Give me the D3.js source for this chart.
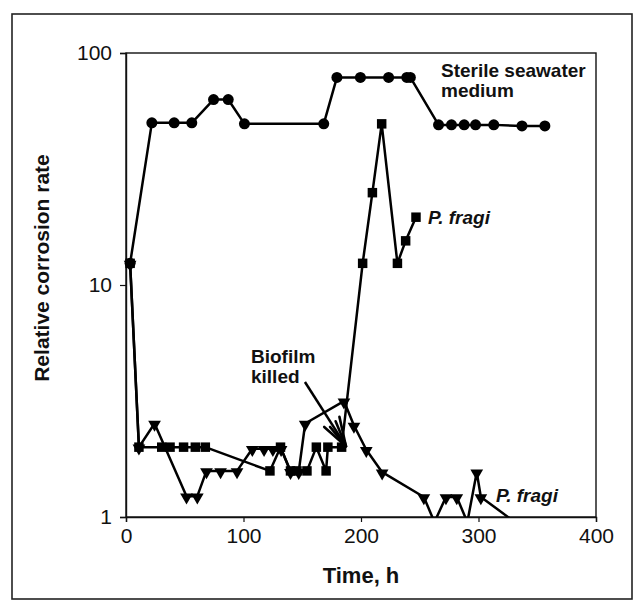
<!DOCTYPE html>
<html>
<head>
<meta charset="utf-8">
<script src="https://cdn.jsdelivr.net/npm/d3@7"></script>
<style>
  html, body { margin: 0; padding: 0; background: #fff; }
  svg { display: block; }
</style>
</head>
<body>
<svg id="chart" width="642" height="607"></svg>
<script>
// ---- Data ----
const xTicks = [0, 100, 200, 300, 400];
const yTicks = [1, 10, 100];

// Sterile seawater medium (circles)
const sterileTime  = [3.5, 22, 41, 56, 74.5, 87, 100.8, 168.3, 179.5, 199.5, 223.5, 239, 242, 266, 277, 287.8, 297.5, 313, 337, 356.5];
const sterileValue = [12.4, 50, 50, 50, 63, 63, 49.5, 49.5, 78.5, 78.5, 78.5, 78.5, 78.5, 49, 49, 49, 49, 49, 48.5, 48.5];

// P. fragi (squares)
const squareTime  = [3.5, 11, 30.4, 37.5, 49, 59, 67.5, 122.5, 131.5, 140, 145.5, 154, 162, 170.3, 171.8, 183.5, 201.4, 209.7, 217.6, 231, 238, 246.8];
const squareValue = [12.4, 2, 2, 2, 2, 2, 2, 1.58, 2, 1.58, 1.58, 1.58, 2, 1.58, 2, 2, 12.4, 25, 49.5, 12.4, 15.5, 19.6];

// P. fragi, biofilm killed (down triangles)
const triTime  = [3.5, 11, 24.3, 51.5, 60.7, 68.5, 80.5, 94.5, 107.5, 117.5, 125, 132, 140, 147, 152.5, 185.5, 194, 204.5, 218, 253.5, 262.5, 272.3, 281.5, 290.5, 298.5, 302, 340];
const triValue = [12.4, 2, 2.53, 1.23, 1.23, 1.58, 1.58, 1.58, 1.97, 1.97, 1.97, 1.97, 1.57, 1.57, 2.53, 3.16, 2.48, 1.95, 1.56, 1.22, 0.95, 1.22, 1.22, 0.95, 1.56, 1.22, 0.88];

// Annotation arrow (data coordinates): start, tip
const arrowFrom = [152.3, 3.82];
const arrowTip  = [187.2, 2.02];

// ---- Layout ----
const svg = d3.select("#chart");
const L = 126, R = 596, T = 53, B = 517;
const x = d3.scaleLinear().domain([0, 400]).range([L, R]);
const y = d3.scaleLog().domain([1, 100]).range([B, T]);
const FONT = "Liberation Sans, Arial, Helvetica, sans-serif";

// outer frame
svg.append("rect")
  .attr("x", 12).attr("y", 14).attr("width", 620).attr("height", 585)
  .attr("fill", "none").attr("stroke", "#222").attr("stroke-width", 1.6);

// plot frame
svg.append("rect")
  .attr("x", L).attr("y", T).attr("width", R - L).attr("height", B - T)
  .attr("fill", "none").attr("stroke", "#111").attr("stroke-width", 1.4);

// axes
const xAxis = d3.axisBottom(x).tickValues(xTicks).tickSize(5).tickPadding(6).tickFormat(d3.format("d"));
const gx = svg.append("g").attr("transform", `translate(0,${B})`).call(xAxis);
gx.select(".domain").attr("stroke", "#111").attr("stroke-width", 1.4);
gx.selectAll(".tick line").attr("stroke", "#111").attr("stroke-width", 1.2);
gx.selectAll(".tick text").attr("font-family", FONT).attr("font-size", 21).attr("fill", "#111");

const yAxis = d3.axisLeft(y).tickValues(yTicks).tickSize(6).tickPadding(8).tickFormat(d3.format("d"));
const gy = svg.append("g").attr("transform", `translate(${L},0)`).call(yAxis);
gy.select(".domain").attr("stroke", "#111").attr("stroke-width", 1.4);
gy.selectAll(".tick line").attr("stroke", "#111").attr("stroke-width", 1.2);
gy.selectAll(".tick text").attr("font-family", FONT).attr("font-size", 21).attr("fill", "#111");

// axis titles
svg.append("text")
  .attr("x", 361).attr("y", 583)
  .attr("text-anchor", "middle")
  .attr("font-family", FONT).attr("font-weight", "bold").attr("font-size", 22)
  .attr("fill", "#111")
  .text("Time, h");

svg.append("text")
  .attr("transform", "translate(49,268) rotate(-90)")
  .attr("text-anchor", "middle")
  .attr("font-family", FONT).attr("font-weight", "bold").attr("font-size", 21)
  .attr("fill", "#111")
  .text("Relative corrosion rate");

// clip for lines
svg.append("clipPath").attr("id", "plotclip")
  .append("rect").attr("x", L).attr("y", T).attr("width", R - L).attr("height", B - T);

function series(times, values) {
  return times.map((t, i) => ({ t: t, v: values[i] }));
}
const tri = series(triTime, triValue);
const sq = series(squareTime, squareValue);
const st = series(sterileTime, sterileValue);

const line = d3.line().x(d => x(d.t)).y(d => y(d.v));
const inRange = d => d.v >= 1 && d.v <= 100;

const plot = svg.append("g");
[tri, sq, st].forEach(s => {
  plot.append("path")
    .datum(s)
    .attr("d", line)
    .attr("fill", "none")
    .attr("stroke", "#000")
    .attr("stroke-width", 2.5)
    .attr("stroke-linejoin", "round")
    .attr("clip-path", "url(#plotclip)");
});

// markers
plot.selectAll(".tri").data(tri.filter(inRange)).enter().append("path")
  .attr("d", d3.symbol().type(d3.symbolTriangle).size(70))
  .attr("transform", d => `translate(${x(d.t)},${y(d.v) + 1}) rotate(180)`)
  .attr("fill", "#000");

plot.selectAll(".sq").data(sq.filter(inRange)).enter().append("path")
  .attr("d", d3.symbol().type(d3.symbolSquare).size(90))
  .attr("transform", d => `translate(${x(d.t)},${y(d.v)})`)
  .attr("fill", "#000");

plot.selectAll(".ci").data(st.filter(inRange)).enter().append("circle")
  .attr("cx", d => x(d.t)).attr("cy", d => y(d.v)).attr("r", 5.5)
  .attr("fill", "#000");

// annotation labels
function label(tx, ty, lines, italic) {
  const t = svg.append("text")
    .attr("font-family", FONT).attr("font-weight", "bold")
    .attr("font-style", italic ? "italic" : "normal")
    .attr("font-size", 19).attr("fill", "#111");
  lines.forEach((s, i) => {
    t.append("tspan").attr("x", tx).attr("y", ty + i * 19.5).text(s);
  });
}
label(441, 77, ["Sterile seawater", "medium"], false);
label(428, 224, ["P. fragi"], true);
label(496, 502, ["P. fragi"], true);
label(251, 363, ["Biofilm", "killed"], false);

// arrow
const ax0 = x(arrowFrom[0]), ay0 = y(arrowFrom[1]);
const ax1 = x(arrowTip[0]), ay1 = y(arrowTip[1]);
svg.append("line")
  .attr("x1", ax0).attr("y1", ay0).attr("x2", ax1).attr("y2", ay1)
  .attr("stroke", "#000").attr("stroke-width", 2.5);
const ang = Math.atan2(ay0 - ay1, ax0 - ax1);
[[-16, 29], [-7, 25], [10, 27], [20, 30]].forEach(([deg, len]) => {
  const a = ang + deg * Math.PI / 180;
  svg.append("line")
    .attr("x1", ax1).attr("y1", ay1)
    .attr("x2", ax1 + len * Math.cos(a)).attr("y2", ay1 + len * Math.sin(a))
    .attr("stroke", "#000").attr("stroke-width", 2.6).attr("stroke-linecap", "round");
});
</script>
</body>
</html>
